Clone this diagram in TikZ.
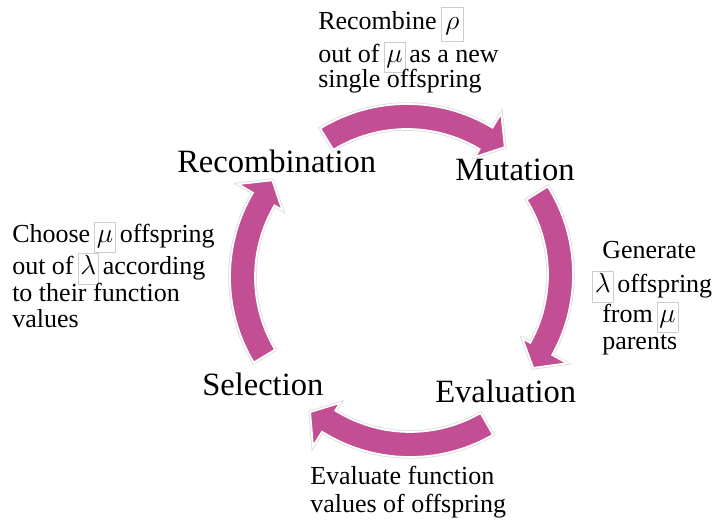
\documentclass[tikz,border=0pt]{standalone}
\usepackage{fontspec}
\setmainfont{Liberation Serif}
\definecolor{arrowmag}{RGB}{194,78,148}
\definecolor{boxgray}{RGB}{205,205,205}
\tikzset{
  cyc/.style={fill=arrowmag, draw=white, line width=1.3pt, line join=miter},
  cycglow/.style={draw=black!13, line width=2.6pt, line join=miter},
  big/.style={anchor=base west, inner sep=0pt, font=\fontsize{24.4}{28}\selectfont},
  small/.style={anchor=base west, inner sep=0pt, font=\fontsize{19.5}{22}\selectfont},
}
\newcommand\gb[2][1.5pt]{{\setlength\fboxsep{#1}\setlength\fboxrule{0.5pt}\fcolorbox{boxgray}{white}{\rule[-5pt]{0pt}{19pt}#2}}}
\newcommand\gap{\hspace{3pt}}
\newcommand\cycarrow[4]{%
  \begin{scope}[shift={(#1,#2)}, yscale=-1]
    \path[cycglow] (#3:166) arc[start angle=#3, end angle=#4, radius=166]
      -- (#4:183) -- ({#4-7.5}:157) -- (#4:132) -- (#4:141)
      arc[start angle=#4, end angle=#3, radius=141] -- cycle;
    \path[cyc] (#3:166) arc[start angle=#3, end angle=#4, radius=166]
      -- (#4:183) -- ({#4-7.5}:157) -- (#4:132) -- (#4:141)
      arc[start angle=#4, end angle=#3, radius=141] -- cycle;
  \end{scope}}
\begin{document}
\begin{tikzpicture}[x=0.75pt, y=-0.75pt]
  \useasboundingbox (0,0) rectangle (722,523);
  % cycle arrows
  \cycarrow{407}{270}{121.5}{59}
  \cycarrow{407}{274.5}{32}{-29}
  \cycarrow{410}{291}{-60}{-122}
  \cycarrow{396}{277}{211}{149.5}
  % stage labels
  \node[big] (recomb) at (177,173) {Recombination};
  \node[big] (mut) at (455,181) {Mutation};
  \node[big] (eval) at (435,403) {Evaluation};
  \node[big] (sel) at (202,396) {Selection};
  % descriptions
  \node[small] (r1) at (318,30) {Recombine\gap\gb[3pt]{$\rho$}};
  \node[small] (r2) at (318,63) {out of\gap\gb{$\mu$}\gap as a new};
  \node[small] (r3) at (318,88) {single offspring};
  \node[small] (c1) at (12,243) {Choose\gap\gb{$\mu$}\gap offspring};
  \node[small] (c2) at (12,275) {out of\gap\gb{$\lambda$}\gap according};
  \node[small] (c3) at (12,302) {to their function};
  \node[small] (c4) at (12,328) {values};
  \node[small] (g1) at (602,259) {Generate};
  \node[small] (g2) at (592,293) {\gb{$\lambda$}\gap offspring};
  \node[small] (g3) at (602,323) {from\gap\gb{$\mu$}};
  \node[small] (g4) at (602,350) {parents};
  \node[small] (e1) at (310,485) {Evaluate function};
  \node[small] (e2) at (310,513) {values of offspring};
\end{tikzpicture}
\end{document}
